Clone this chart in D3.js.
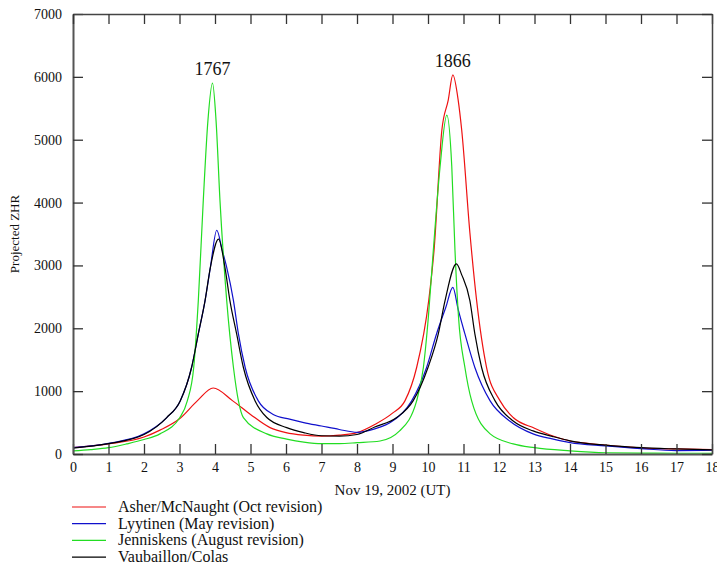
<!DOCTYPE html>
<html>
<head>
<meta charset="utf-8">
<script src="https://cdn.jsdelivr.net/npm/d3@7"></script>
<style>
  body { margin: 0; background: #fff; }
  svg text { font-family: "Liberation Serif", "Times New Roman", serif; fill: #111; }
</style>
</head>
<body>
<div id="chart"></div>
<script>
// [hours after Nov 19 0h UT, projected ZHR]
const asher = [
  [0,100],[1,160],[2,270],[2.45,380],[3,560],[3.5,845],[3.95,1050],[4.5,845],[5,630],[5.55,420],
  [6,340],[6.5,300],[7,285],[7.5,300],[8,340],[8.5,470],[9,650],[9.35,845],[9.68,1376],[10.02,2440],
  [10.17,3240],[10.39,5150],[10.57,5630],[10.7,6030],[10.85,5630],[10.95,5150],[11.18,3520],[11.37,2440],
  [11.65,1376],[12.03,845],[12.4,580],[13,410],[13.5,290],[14,207],[14.5,170],[15,140],[16,95],[17,80],[18,70]
];
const lyytinen = [
  [0,100],[1,170],[2,320],[2.64,580],[3.02,845],[3.34,1376],[3.53,1910],[3.72,2440],[3.87,2970],[4.05,3560],
  [4.2,3250],[4.33,2970],[4.52,2440],[4.66,1910],[4.85,1376],[5.22,845],[5.64,630],[6.1,555],[6.5,500],
  [7,445],[7.5,390],[8,345],[8.5,400],[9,525],[9.54,845],[9.96,1376],[10.24,1910],[10.5,2330],[10.7,2650],
  [10.85,2300],[11.04,1910],[11.32,1376],[11.75,845],[12.3,525],[12.96,320],[13.5,240],[14,180],[15,128],
  [16,85],[17,55],[18,60]
];
const jenniskens = [
  [0,50],[0.5,70],[1,100],[1.51,160],[2,230],[2.45,320],[3.01,580],[3.22,845],[3.4,1376],[3.53,2440],
  [3.67,4035],[3.8,5300],[3.93,5900],[4.03,5300],[4.14,4035],[4.33,2440],[4.52,1376],[4.66,845],[4.8,580],
  [5.46,320],[6.02,238],[6.5,190],[7,165],[7.5,165],[8,180],[8.65,207],[9.2,367],[9.68,845],[9.87,1376],
  [10.01,2175],[10.15,3240],[10.34,4570],[10.53,5390],[10.67,4570],[10.76,3240],[10.86,2175],[11.04,1376],
  [11.23,845],[11.75,320],[12.4,160],[13,100],[14,50],[15,20],[16,15],[17,12],[18,12]
];
const vaubaillon = [
  [0,95],[1,165],[2,310],[2.64,580],[3.02,845],[3.34,1376],[3.53,1910],[3.72,2440],[3.87,2970],[4.1,3420],
  [4.28,2970],[4.42,2440],[4.61,1910],[4.8,1376],[5.13,845],[5.46,580],[6.02,420],[6.5,340],[7,290],
  [7.5,285],[8,310],[8.5,430],[9.12,580],[9.58,845],[10,1376],[10.29,1910],[10.48,2440],[10.8,3025],
  [10.95,2850],[11.18,2440],[11.32,1910],[11.51,1376],[11.89,845],[12.4,525],[12.96,367],[13.5,280],
  [14,210],[15,140],[16,100],[17,80],[18,65]
];

const seriesNames = ["Asher/McNaught (Oct revision)", "Lyytinen (May revision)",
                     "Jenniskens (August revision)", "Vaubaillon/Colas"];
const seriesData = [asher, lyytinen, jenniskens, vaubaillon];
const seriesColors = ["#ee1111", "#1010cc", "#22dd22", "#000000"];

const xTicks = d3.range(0, 19);
const yTicks = d3.range(0, 7001, 1000);
const peakLabels = [{ t: 3.93, v: 5900, text: "1767" }, { t: 10.7, v: 6030, text: "1866" }];

const W = 717, H = 576;
const margin = { top: 14, right: 5, bottom: 122, left: 73 };
const width = W - margin.left - margin.right;
const height = H - margin.top - margin.bottom;

const svg = d3.select("#chart").append("svg")
    .attr("width", W)
    .attr("height", H);

const g = svg.append("g")
    .attr("transform", `translate(${margin.left},${margin.top})`);

const x = d3.scaleLinear().domain([0, 18]).range([0, width]);
const y = d3.scaleLinear().domain([0, 7000]).range([height, 0]);

// curves
const line = d3.line()
    .x(d => x(d[0]))
    .y(d => y(d[1]))
    .curve(d3.curveMonotoneX);

seriesData.forEach((data, i) => {
    g.append("path")
        .datum(data)
        .attr("fill", "none")
        .attr("stroke", seriesColors[i])
        .attr("stroke-width", 1.2)
        .attr("d", line);
});

// frame with inward ticks on all four sides
const xAxisBottom = g.append("g")
    .attr("transform", `translate(0,${height})`)
    .call(d3.axisBottom(x).tickValues(xTicks).tickFormat(d3.format("d"))
        .tickSizeInner(-10).tickSizeOuter(0).tickPadding(8));
const yAxisLeft = g.append("g")
    .call(d3.axisLeft(y).tickValues(yTicks).tickFormat(d3.format("d"))
        .tickSizeInner(-10).tickSizeOuter(0).tickPadding(11));
const xAxisTop = g.append("g")
    .call(d3.axisTop(x).tickValues(xTicks).tickSizeInner(-10).tickSizeOuter(0).tickFormat(""));
const yAxisRight = g.append("g")
    .attr("transform", `translate(${width},0)`)
    .call(d3.axisRight(y).tickValues(yTicks).tickSizeInner(-10).tickSizeOuter(0).tickFormat(""));

[xAxisBottom, yAxisLeft].forEach(a => {
    a.select(".domain").attr("stroke", "#555").attr("stroke-width", 2);
    a.selectAll(".tick line").attr("stroke", "#333").attr("stroke-width", 1.3);
    a.selectAll("text").attr("font-size", 14).attr("fill", "#222")
        .style("font-family", '"Liberation Serif", "Times New Roman", serif');
});
[xAxisTop, yAxisRight].forEach(a => {
    a.select(".domain").attr("stroke", "#444").attr("stroke-width", 1.5);
    a.selectAll(".tick line").attr("stroke", "#333").attr("stroke-width", 1.3);
});

// peak annotations
g.selectAll(".peak")
    .data(peakLabels)
    .join("text")
    .attr("class", "peak")
    .attr("x", d => x(d.t))
    .attr("y", d => y(d.v) - 8)
    .attr("text-anchor", "middle")
    .attr("font-size", 18)
    .text(d => d.text);

// axis titles
g.append("text")
    .attr("x", width / 2)
    .attr("y", height + 41)
    .attr("text-anchor", "middle")
    .attr("font-size", 15)
    .text("Nov 19, 2002 (UT)");

svg.append("text")
    .attr("transform", `translate(19,${margin.top + height / 2}) rotate(-90)`)
    .attr("text-anchor", "middle")
    .attr("font-size", 13)
    .text("Projected ZHR");

// legend
const legend = svg.append("g").attr("transform", "translate(72,507)");
seriesNames.forEach((name, i) => {
    const row = legend.append("g").attr("transform", `translate(0,${i * 16.7})`);
    row.append("line")
        .attr("x1", 0).attr("x2", 34)
        .attr("stroke", seriesColors[i])
        .attr("stroke-width", 1.2);
    row.append("text")
        .attr("x", 46)
        .attr("y", 5)
        .attr("font-size", 16)
        .text(name);
});
</script>
</body>
</html>
